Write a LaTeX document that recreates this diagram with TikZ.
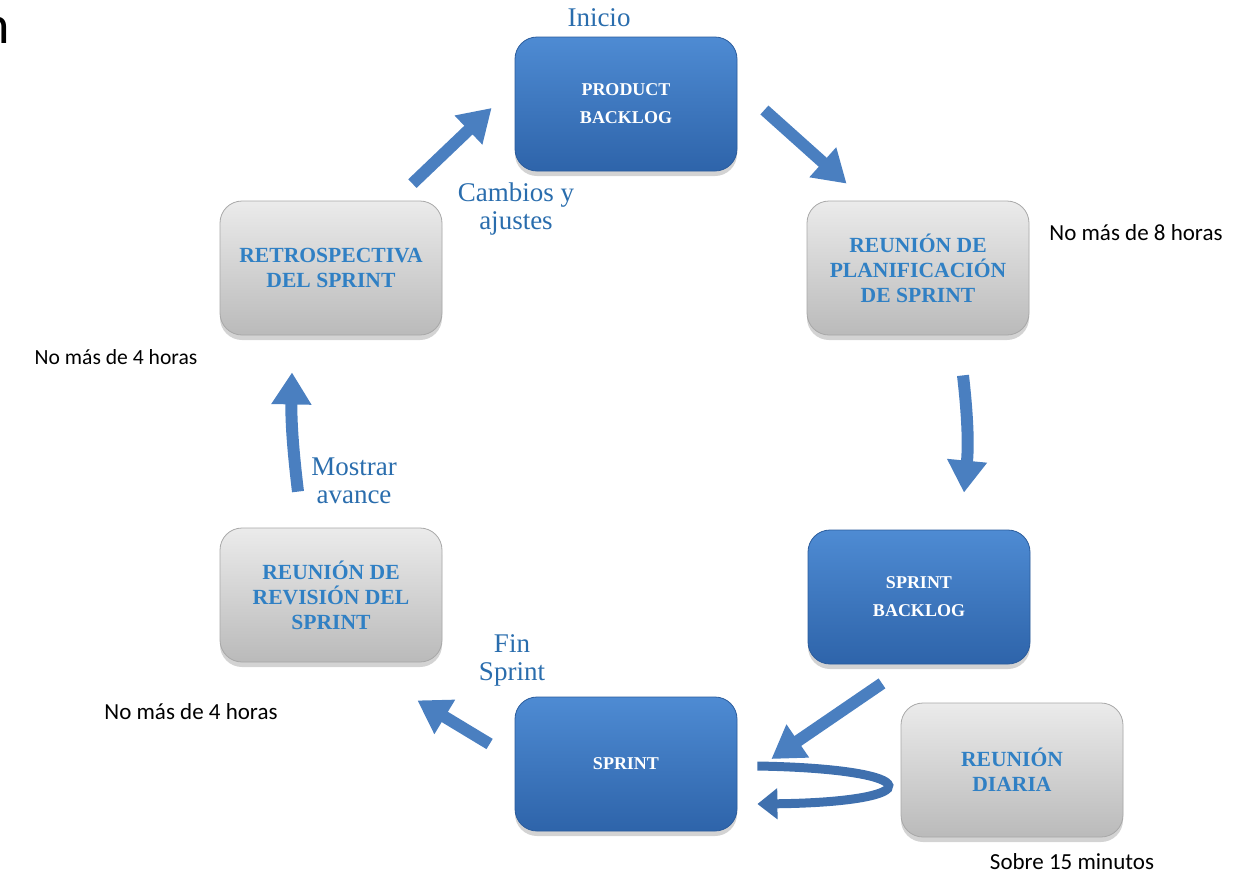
\documentclass[tikz,border=0pt]{standalone}
\usepackage{fontspec}
\setmainfont{Liberation Serif}
\newfontfamily\calibri{Carlito}
\usepackage{tikz}
\usetikzlibrary{arrows.meta,shadows,calc}

\definecolor{topblue}{HTML}{4E8BD3}
\definecolor{botblue}{HTML}{2E64AA}
\definecolor{edgeblue}{HTML}{2B5C9C}
\definecolor{topgray}{HTML}{EBEBEB}
\definecolor{botgray}{HTML}{BABABA}
\definecolor{edgegray}{HTML}{A8A8A8}
\definecolor{textblue}{HTML}{3080C4}
\definecolor{labelblue}{HTML}{2A6DAD}
\definecolor{arrowblue}{HTML}{4A7FC0}
\definecolor{loopblue}{HTML}{3F70AE}

\begin{document}
\begin{tikzpicture}[x=0.5pt, y=-0.5pt,
    stepbox/.style={rectangle, rounded corners=11pt, minimum width=111pt, minimum height=67pt,
      align=center, drop shadow={shadow xshift=0pt, shadow yshift=-2.5pt, opacity=0.35}},
    bluebox/.style={stepbox, top color=topblue, bottom color=botblue, draw=edgeblue, text=white,
      font=\fontsize{9}{14}\selectfont\bfseries},
    graybox/.style={stepbox, top color=topgray, bottom color=botgray, draw=edgegray, text=textblue,
      font=\fontsize{10.8}{12.5}\selectfont\bfseries},
    blockarrow/.style={draw=arrowblue, line width=6pt, -{Triangle[width=19pt,length=16pt]}},
    steplabel/.style={text=labelblue, align=center, font=\fontsize{13.5}{14}\selectfont},
    note/.style={font=\calibri\fontsize{11.5}{13}\selectfont}]

    \useasboundingbox (0,0) rectangle (1250,879);

    % cut-off heading letter
    \node[anchor=base east, inner sep=0pt, font=\calibri\fontsize{27}{30}\selectfont] (cut) at (10,43) {n};

    \foreach \pos/\name/\txt in {{(626,104)/pb/PRODUCT\\BACKLOG}, {(919,597)/sb/SPRINT\\BACKLOG},
                                {(626,764)/sprint/SPRINT}}
        \node[bluebox] (\name) at \pos {\txt};

    \foreach \pos/\name/\txt in {{(918,268)/plan/REUNIÓN DE\\PLANIFICACIÓN\\DE SPRINT},
                                {(331,268)/retro/RETROSPECTIVA\\DEL SPRINT},
                                {(331,595)/rev/REUNIÓN DE\\REVISIÓN DEL\\SPRINT},
                                {(1012,770)/diaria/REUNIÓN\\DIARIA}}
        \node[graybox] (\name) at \pos {\txt};

    % labels
    \node[steplabel] (inicio) at (599,18) {Inicio};
    \node[steplabel] (cambios) at (516,209) {Cambios y\\ajustes};
    \node[steplabel] (mostrar) at (354,481) {Mostrar\\avance};
    \node[steplabel] (fin) at (512,660) {Fin\\Sprint};

    \node[note] (n8) at (1136,233) {No más de 8 horas};
    \node[note, font=\calibri\fontsize{10.8}{13}\selectfont] (n4a) at (116,357) {No más de 4 horas};
    \node[note] (n4b) at (191,712) {No más de 4 horas};
    \node[note] (n15) at (1072,862) {Sobre 15 minutos};

    % cycle
    \draw[blockarrow] ($(retro.north east)+(-30,-17)$) -- ($(pb.west)+(-23,4)$);
    \draw[blockarrow] ($(pb.east)+(27,6)$) -- ($(plan.north west)+(40,-17)$);
    \draw[blockarrow] ($(plan.south)+(45,40)$) to[bend left=6] ($(sb.north)+(45,-37)$);
    \draw[blockarrow] ($(sb.south)+(-37,19)$) -- ($(sprint.east)+(34,-5)$);
    \draw[blockarrow] ($(sprint.west)+(-25,-20)$) -- ($(rev.south east)+(-25,38)$);
    \draw[blockarrow] ($(rev.north)+(-33,-36)$) to[bend left=4] ($(retro.south)+(-39,37)$);

    % daily loop
    \draw[draw=loopblue, line width=4.5pt, -{Triangle[width=15pt,length=10pt]}]
        ($(sprint.east)+(20,2)$) .. controls ($(sprint.east)+(192,5)$) and ($(sprint.east)+(192,38)$) .. ($(sprint.east)+(20,40)$);
\end{tikzpicture}
\end{document}
